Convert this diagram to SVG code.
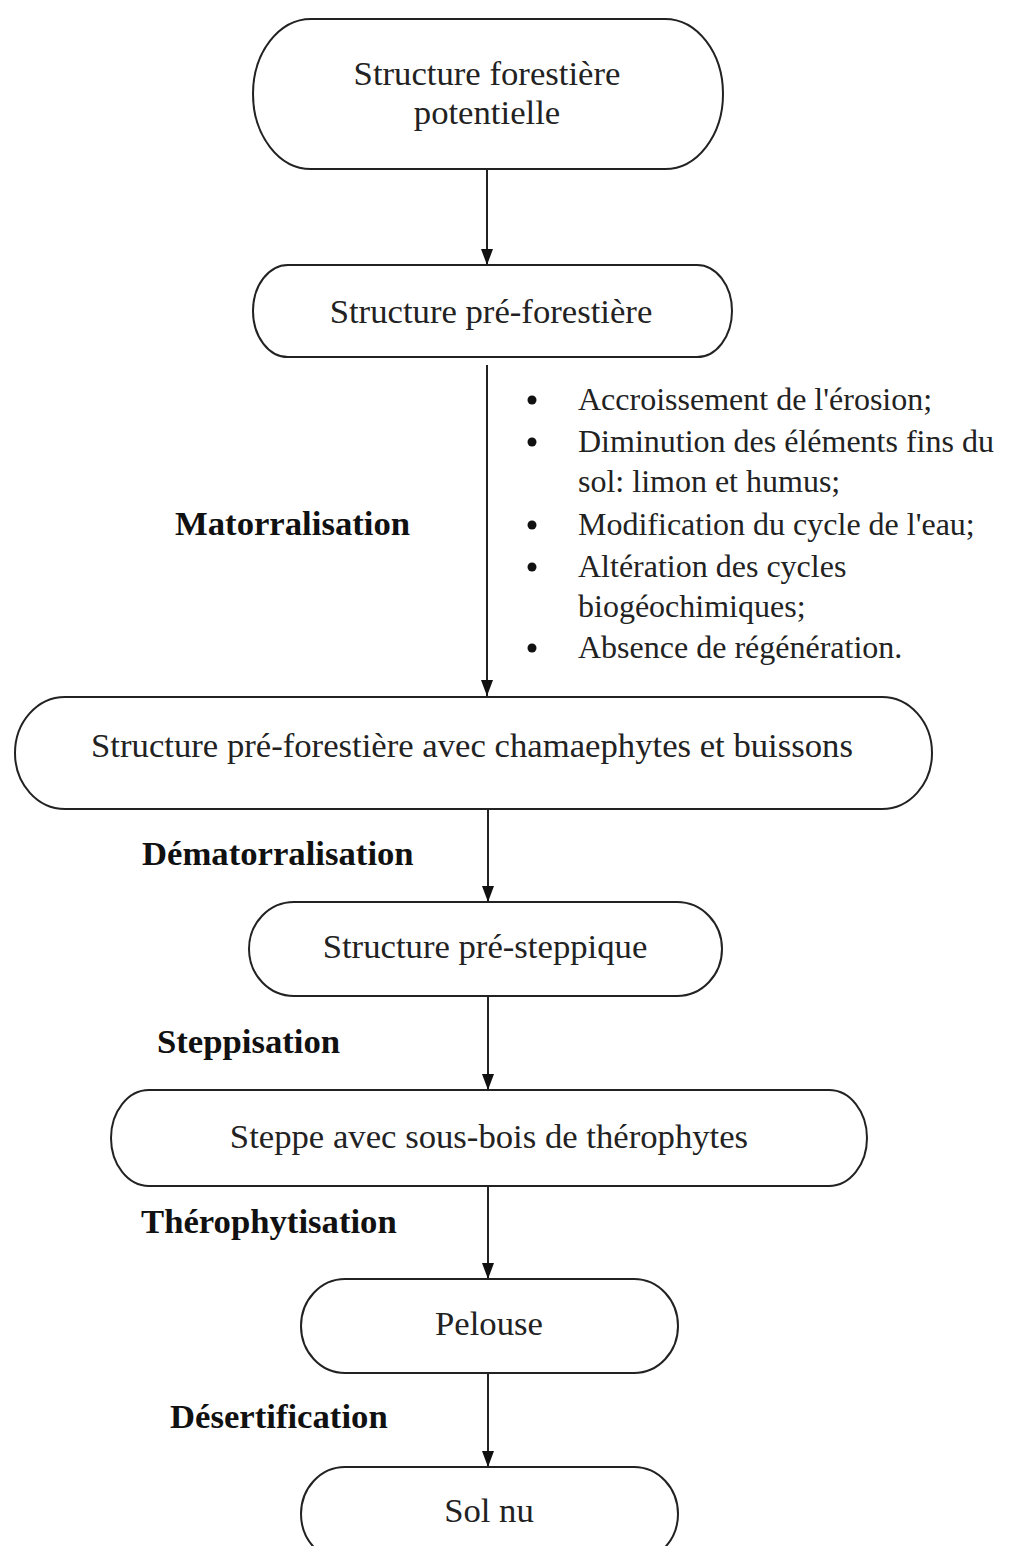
<svg xmlns="http://www.w3.org/2000/svg" width="1034" height="1546" viewBox="0 0 1034 1546">
<style>
.node{fill:#fff;stroke:#222;stroke-width:2}
.nt{font-family:"Liberation Serif","Times New Roman",serif;font-size:34.7px;fill:#222;text-anchor:middle}
.lb{font-family:"Liberation Serif","Times New Roman",serif;font-size:34.7px;font-weight:bold;fill:#111}
.bt{font-family:"Liberation Serif","Times New Roman",serif;font-size:32px;fill:#222}
.edge{stroke:#222;stroke-width:2;fill:none;marker-end:url(#arr)}
</style>
<defs>
<marker id="arr" viewBox="0 0 16 12" refX="16" refY="6" markerWidth="16" markerHeight="12" markerUnits="userSpaceOnUse" orient="auto">
<path d="M0,0 L16,6 L0,12 Z" fill="#111"/>
</marker>
</defs>
<rect width="1034" height="1546" fill="#fff"/>
<g id="connectors">
<line class="edge" x1="487" y1="169" x2="487" y2="265"/>
<line class="edge" x1="487" y1="365" x2="487" y2="696"/>
<line class="edge" x1="488" y1="809" x2="488" y2="902"/>
<line class="edge" x1="488" y1="996" x2="488" y2="1090"/>
<line class="edge" x1="488" y1="1186" x2="488" y2="1279"/>
<line class="edge" x1="488" y1="1373" x2="488" y2="1467"/>
</g>
<g id="n1"><rect class="node" x="253" y="19" width="470" height="150" rx="58" ry="75"/><text class="nt" x="487" y="85">Structure forestière</text><text class="nt" x="487" y="124">potentielle</text></g>
<g id="n2"><rect class="node" x="253" y="265" width="479" height="92" rx="35" ry="46"/><text class="nt" x="491" y="323">Structure pré-forestière</text></g>
<g id="n3"><rect class="node" x="15" y="697" width="917" height="112" rx="50" ry="56"/><text class="nt" x="472" y="757">Structure pré-forestière avec chamaephytes et buissons</text></g>
<g id="n4"><rect class="node" x="249" y="902" width="473" height="94" rx="45" ry="47"/><text class="nt" x="485" y="958">Structure pré-steppique</text></g>
<g id="n5"><rect class="node" x="111" y="1090" width="756" height="96" rx="38" ry="48"/><text class="nt" x="489" y="1148">Steppe avec sous-bois de thérophytes</text></g>
<g id="n6"><rect class="node" x="301" y="1279" width="377" height="94" rx="44" ry="47"/><text class="nt" x="489" y="1335">Pelouse</text></g>
<g id="n7"><rect class="node" x="301" y="1467" width="377" height="94" rx="44" ry="47"/><text class="nt" x="489" y="1522">Sol nu</text></g>
<g id="labels">
<text class="lb" x="175" y="535">Matorralisation</text>
<text class="lb" x="142" y="865">Dématorralisation</text>
<text class="lb" x="157" y="1053">Steppisation</text>
<text class="lb" x="141" y="1233">Thérophytisation</text>
<text class="lb" x="170" y="1428">Désertification</text>
</g>
<g id="bullets">
<circle cx="532" cy="400" r="4.5" fill="#111"/>
<circle cx="532" cy="442" r="4.5" fill="#111"/>
<circle cx="532" cy="525" r="4.5" fill="#111"/>
<circle cx="532" cy="567" r="4.5" fill="#111"/>
<circle cx="532" cy="648" r="4.5" fill="#111"/>
<text class="bt" x="578" y="410">Accroissement de l'érosion;</text>
<text class="bt" x="578" y="452">Diminution des éléments fins du</text>
<text class="bt" x="578" y="492">sol: limon et humus;</text>
<text class="bt" x="578" y="535">Modification du cycle de l'eau;</text>
<text class="bt" x="578" y="577">Altération des cycles</text>
<text class="bt" x="578" y="617">biogéochimiques;</text>
<text class="bt" x="578" y="658">Absence de régénération.</text>
</g>
</svg>
